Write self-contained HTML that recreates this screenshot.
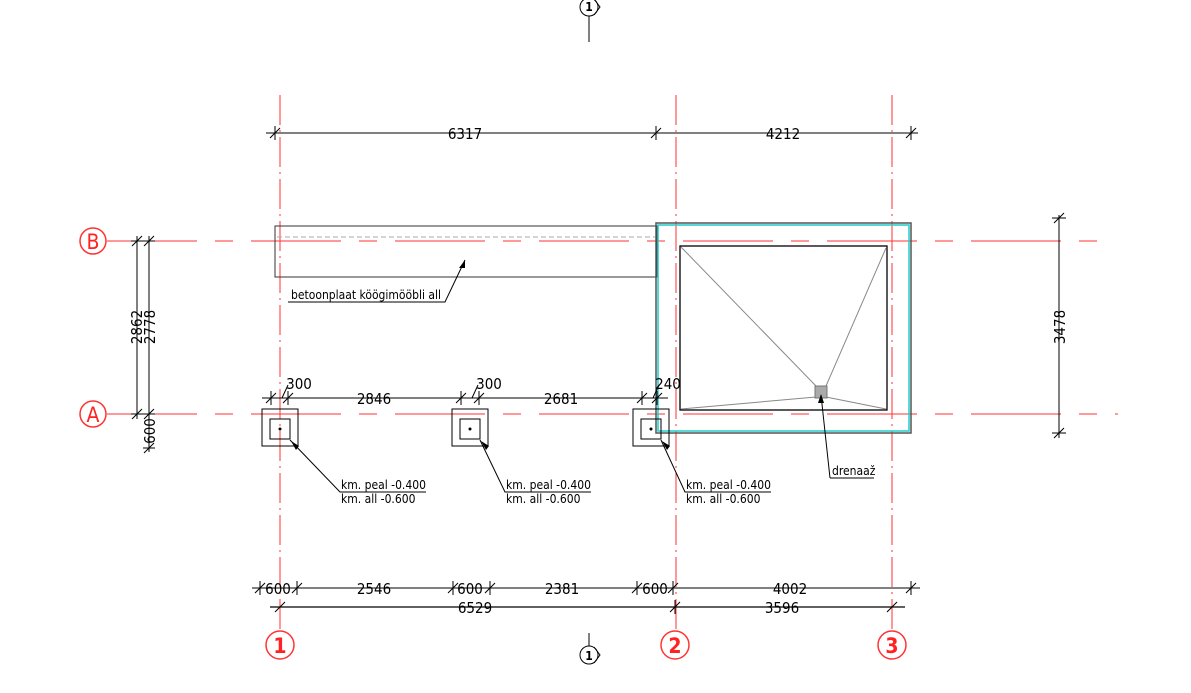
<!DOCTYPE html>
<html><head><meta charset="utf-8"><style>body{margin:0;background:#fff}svg{display:block}text{font-family:"DejaVu Sans Condensed","Liberation Sans",sans-serif}</style></head><body>
<svg width="1191" height="693" viewBox="0 0 1191 693" xmlns="http://www.w3.org/2000/svg">
<g stroke="#f33" stroke-width="1" fill="none">
<line x1="280" y1="95" x2="280" y2="630" stroke-dasharray="30,5,2,5"/>
<line x1="676" y1="95" x2="676" y2="630" stroke-dasharray="30,5,2,5"/>
<line x1="892" y1="95" x2="892" y2="630" stroke-dasharray="30,5,2,5"/>
<line x1="107" y1="241" x2="1110" y2="241" stroke-dasharray="90,18,18,18"/>
<line x1="107" y1="414" x2="1118" y2="414" stroke-dasharray="90,18,18,18"/>
</g>
<g stroke="#f33" stroke-width="1.5" fill="none">
<circle cx="93" cy="241" r="13"/><circle cx="93" cy="414" r="13"/>
<circle cx="280" cy="645" r="14"/><circle cx="675" cy="645" r="14"/><circle cx="892" cy="645" r="14"/>
</g>
<g fill="#f22" font-size="21" text-anchor="middle" style="font-family:'Liberation Sans',sans-serif">
<text x="93" y="249">B</text><text x="93" y="422">A</text>
</g>
<g fill="#f22" font-size="21" font-weight="bold" text-anchor="middle" style="font-family:'Liberation Sans',sans-serif">
<text x="280" y="653">1</text><text x="675" y="653">2</text><text x="892" y="653">3</text>
</g>
<g stroke="#000" stroke-width="1" fill="none">
<line x1="266" y1="133" x2="918" y2="133"/>
<path d="M270 138l10-10M651 138l10-10M906 138l10-10M275 126v14M656 126v14M911 126v14"/>
<rect x="275" y="226" width="382" height="51" stroke="#333"/>
<line x1="277" y1="237" x2="655" y2="237" stroke="#aaa" stroke-dasharray="5,3"/>
<polyline points="288,302 445,302 465,260"/>
<rect x="656" y="223" width="255" height="210" stroke="#555" stroke-width="1.5"/>
<rect x="658" y="225" width="251" height="206" stroke="#2cc" stroke-width="1.5"/>
<rect x="680" y="246" width="207" height="164" stroke-width="1.3"/>
<path d="M681 247L816 386M886 248L826 386M681 409L816 397M886 409L826 397" stroke="#888"/>
<rect x="815" y="386" width="12" height="12" fill="#aaa" stroke="#777"/>
<polyline points="830,478 874,478"/><line x1="830" y1="478" x2="821" y2="395"/>
<line x1="1059" y1="215" x2="1059" y2="438"/>
<path d="M1052 218h14M1052 433h14M1054 223l10-10M1054 438l10-10"/>
<line x1="137" y1="236" x2="137" y2="419"/>
<line x1="149" y1="236" x2="149" y2="452"/>
<path d="M131 241h24M131 414h24M143 448h12M132 246l10-10M144 246l10-10M132 419l10-10M144 419l10-10M144 453l10-10"/>
<rect x="262" y="409" width="36" height="37"/><rect x="270" y="419" width="20" height="20"/>
<rect x="452" y="409" width="36" height="37"/><rect x="460" y="419" width="20" height="20"/>
<rect x="633" y="409" width="36" height="37"/><rect x="641" y="419" width="20" height="20"/>
<path d="M290 440L340 492h86M480 440L505 492h86M661 440L685 492h86"/>
<line x1="262" y1="398" x2="668" y2="398"/>
<path d="M271 391v14M288 391v14M461 391v14M479 391v14M642 391v14M657 391v14M266 403l10-10M283 403l10-10M456 403l10-10M474 403l10-10M637 403l10-10M652 403l10-10M282 398l6-13M472 398l6-13M653 398l6-13"/>
<line x1="252" y1="588" x2="920" y2="588"/>
<path d="M260 581v14M297 581v14M453 581v14M490 581v14M637 581v14M673 581v14M911 581v14M255 593l10-10M292 593l10-10M448 593l10-10M485 593l10-10M632 593l10-10M668 593l10-10M906 593l10-10"/>
<line x1="270" y1="607" x2="905" y2="607" stroke-width="1.3"/>
<path d="M275 612l10-10M670 612l10-10M887 612l10-10M675 600v14"/>
<line x1="589" y1="16" x2="589" y2="42"/><circle cx="589" cy="7" r="9"/><path d="M594 -1l6 8-6 8"/>
<line x1="589" y1="633" x2="589" y2="646"/><circle cx="589" cy="655" r="9"/><path d="M594 647l6 8-6 8"/>
</g>
<polygon points="465,260 459,268 465,268" fill="#000"/>
<polygon points="291,441 296,450 299,446" fill="#000"/>
<polygon points="481,441 486,450 489,446" fill="#000"/>
<polygon points="662,441 667,450 670,446" fill="#000"/>
<polygon points="821,394 818,403 824,403" fill="#000"/>
<circle cx="280" cy="429" r="1.5"/><circle cx="470" cy="429" r="1.5"/><circle cx="651" cy="429" r="1.5"/>
<g font-size="15" fill="#000" text-anchor="middle">
<text x="465" y="139">6317</text><text x="783" y="139">4212</text>
<text x="374" y="404">2846</text><text x="561" y="404">2681</text>
<text x="299" y="389">300</text><text x="489" y="389">300</text><text x="668" y="389">240</text>
<text x="278" y="594">600</text><text x="374" y="594">2546</text><text x="470" y="594">600</text>
<text x="562" y="594">2381</text><text x="655" y="594">600</text><text x="790" y="594">4002</text>
<text x="475" y="613">6529</text><text x="782" y="613">3596</text>
<text transform="translate(142,327) rotate(-90)">2862</text>
<text transform="translate(155,327) rotate(-90)">2778</text>
<text transform="translate(155,431) rotate(-90)">600</text>
<text transform="translate(1065,327) rotate(-90)">3478</text>
</g>
<g font-size="12" fill="#000">
<text x="291" y="299">betoonplaat köögimööbli all</text>
<text x="832" y="475">drenaaž</text>
<text x="341" y="489">km. peal -0.400</text><text x="341" y="503">km. all -0.600</text>
<text x="506" y="489">km. peal -0.400</text><text x="506" y="503">km. all -0.600</text>
<text x="686" y="489">km. peal -0.400</text><text x="686" y="503">km. all -0.600</text>
</g>
<g font-size="12" font-weight="bold" text-anchor="middle"><text x="589" y="11">1</text><text x="589" y="660">1</text></g>
</svg>
</body></html>
